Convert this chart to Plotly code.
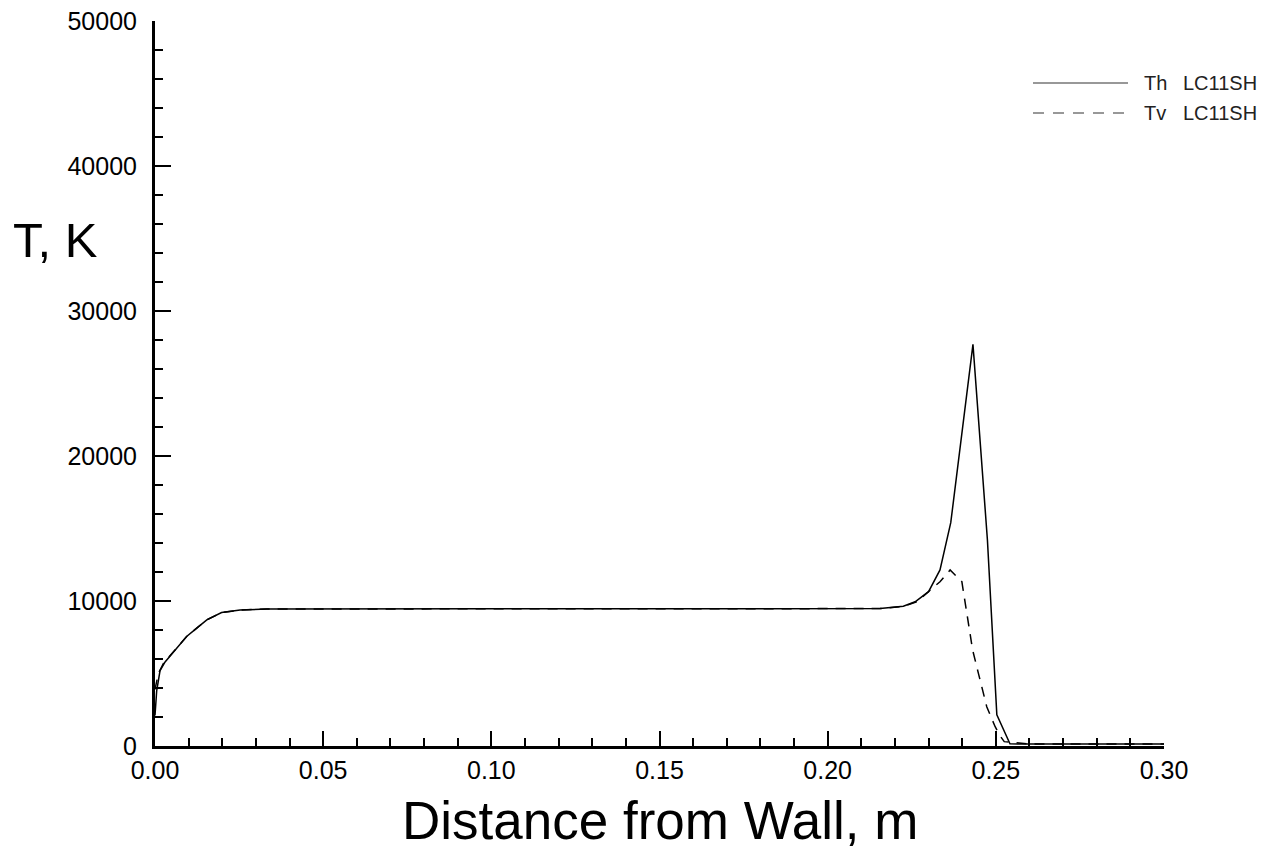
import plotly.graph_objects as go

# Data
th_x = [0.0, 0.0005, 0.0015, 0.003, 0.0045, 0.007, 0.0094, 0.0125, 0.0154, 0.0198,
        0.0253, 0.0332, 0.05, 0.10, 0.15, 0.20, 0.2156, 0.2225, 0.226, 0.230,
        0.2334, 0.2366, 0.2432, 0.2475, 0.2491, 0.2503, 0.2542, 0.26, 0.30]
th_T = [2100, 3800, 5200, 5800, 6200, 6900, 7550, 8150, 8700, 9200,
        9380, 9450, 9460, 9460, 9460, 9460, 9480, 9640, 9950, 10640,
        12140, 15400, 27700, 14200, 7300, 2150, 150, 130, 130]

tv_x = [0.0, 0.001, 0.0025, 0.0045, 0.007, 0.0094, 0.0125, 0.0154, 0.0198, 0.0253,
        0.0332, 0.05, 0.10, 0.15, 0.20, 0.2156, 0.2225, 0.2265, 0.2334, 0.2364,
        0.2399, 0.2431, 0.2448, 0.2473, 0.2498, 0.2511, 0.2525, 0.26, 0.30]
tv_T = [3900, 5000, 5700, 6250, 6900, 7550, 8150, 8700, 9200, 9380,
        9450, 9460, 9460, 9460, 9460, 9480, 9620, 9950, 11330, 12140,
        11330, 6620, 5030, 2710, 1330, 760, 300, 130, 130]

series_names = ["Th", "Tv"]
case_label = "LC11SH"
x_ticks = [0.0, 0.05, 0.10, 0.15, 0.20, 0.25, 0.30]
x_tick_text = ["0.00", "0.05", "0.10", "0.15", "0.20", "0.25", "0.30"]
y_ticks = [0, 10000, 20000, 30000, 40000, 50000]
y_tick_text = ["0", "10000", "20000", "30000", "40000", "50000"]

FONT = "Liberation Sans, Arial, Helvetica, sans-serif"

fig = go.Figure()
fig.add_trace(go.Scatter(x=th_x, y=th_T, mode="lines", name="Th",
                         line=dict(color="black", width=1.5), showlegend=False))
fig.add_trace(go.Scatter(x=tv_x, y=tv_T, mode="lines", name="Tv",
                         line=dict(color="black", width=1.5, dash="10px,8px"),
                         showlegend=False))

W, H = 1270, 850
L, R, T, B = 155, 106, 21, 104
pw, ph = W - L - R, H - T - B

def px2paper(px, py):
    return (px - L) / pw, (H - B - py) / ph

fig.update_layout(
    width=W, height=H,
    margin=dict(l=L, r=R, t=T, b=B, autoexpand=False),
    paper_bgcolor="white", plot_bgcolor="white",
    font=dict(family=FONT, color="black"),
    xaxis=dict(range=[0, 0.30], tickvals=x_ticks, ticktext=x_tick_text,
               ticks="inside", ticklen=15, tickwidth=2, tickcolor="black",
               showline=True, linecolor="black", linewidth=3,
               showgrid=False, zeroline=False,
               tickfont=dict(size=25, family=FONT, color="black"),
               minor=dict(dtick=0.01, ticks="inside", ticklen=8, tickwidth=1.5,
                          tickcolor="black", showgrid=False)),
    yaxis=dict(range=[0, 50000], tickvals=y_ticks, ticktext=y_tick_text,
               ticks="inside", ticklen=16, tickwidth=2, tickcolor="black",
               showline=True, linecolor="black", linewidth=3,
               showgrid=False, zeroline=False, ticklabelstandoff=10,
               tickfont=dict(size=25, family=FONT, color="black"),
               minor=dict(dtick=2000, ticks="inside", ticklen=8, tickwidth=1.5,
                          tickcolor="black", showgrid=False)),
)

# Axis titles
ax, ay = px2paper(55, 240)
fig.add_annotation(text="T, K", xref="paper", yref="paper", x=ax, y=ay,
                   showarrow=False, font=dict(size=49, family=FONT, color="black"),
                   xanchor="center", yanchor="middle")
tx, ty = px2paper(660, 820)
fig.add_annotation(text="Distance from Wall, m", xref="paper", yref="paper", x=tx, y=ty,
                   showarrow=False, font=dict(size=53, family=FONT, color="black"),
                   xanchor="center", yanchor="middle")

# Legend (drawn manually, Tecplot style)
for i, (nm, dash) in enumerate(zip(series_names, ["solid", "11px,9px"])):
    ly = 83 + 30 * i
    x0, y0 = px2paper(1033, ly)
    x1, _ = px2paper(1128, ly)
    fig.add_shape(type="line", xref="paper", yref="paper", x0=x0, x1=x1, y0=y0, y1=y0,
                  line=dict(color="#333333", width=1.2, dash=dash))
    nx, _ = px2paper(1142, ly)
    fig.add_annotation(text=nm, xref="paper", yref="paper", x=nx, y=y0,
                       showarrow=False, xanchor="left", yanchor="middle",
                       font=dict(size=20, family=FONT, color="#222222"))
    cx, _ = px2paper(1181, ly)
    fig.add_annotation(text=case_label, xref="paper", yref="paper", x=cx, y=y0,
                       showarrow=False, xanchor="left", yanchor="middle",
                       font=dict(size=20, family=FONT, color="#222222"))

fig.write_html("out.html", config={"displayModeBar": False},
               post_script="document.body.style.margin='0';document.body.style.overflow='hidden';")
